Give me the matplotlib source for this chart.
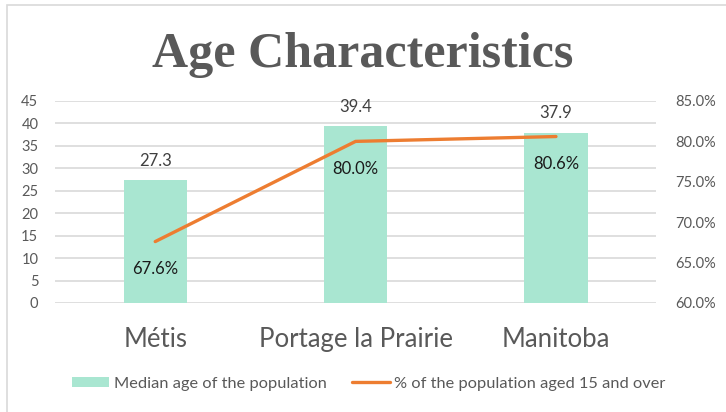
import matplotlib.pyplot as plt
import numpy as np
from matplotlib.patches import Rectangle

categories = ["Métis", "Portage la Prairie", "Manitoba"]
median_age = [27.3, 39.4, 37.9]
pct_15_over = [67.6, 80.0, 80.6]

bar_color = "#A9E6D1"
line_color = "#ED7D31"
text_gray = "#595959"

plt.rcParams["font.family"] = ["Lato", "DejaVu Sans"]

fig = plt.figure(figsize=(7.26, 4.12), dpi=100)
fig.patches.append(Rectangle((7 / 726, -0.05), 1.0, 1 - 5 / 412 + 0.05,
                             transform=fig.transFigure, fill=False,
                             edgecolor="#D9D9D9", linewidth=1.2))

ax = fig.add_axes([0.0758, 0.2646, 0.828, 0.4903])
x = np.arange(len(categories))
ax.bar(x, median_age, width=0.315, color=bar_color, zorder=2,
       label="Median age of the population")
ax.set_xlim(-0.5, 2.5)
ax.set_ylim(0, 45)
ax.set_yticks(np.arange(0, 46, 5))
ax.yaxis.grid(True, color="#D9D9D9", linewidth=1.2, zorder=0)
ax.set_axisbelow(True)
for s in ax.spines.values():
    s.set_visible(False)
ax.tick_params(axis="y", length=0, labelsize=10.5, labelcolor=text_gray, pad=12)
ax.tick_params(axis="x", length=0, labelsize=18.5, labelcolor=text_gray, pad=17)
ax.set_xticks(x)
ax.set_xticklabels(categories)

for xi, v in zip(x, median_age):
    ax.annotate(f"{v:.1f}", (xi, v), xytext=(0, 14), textcoords="offset points",
                ha="center", va="center", fontsize=12, color="#404040")

ax2 = ax.twinx()
ax2.plot(x, pct_15_over, color=line_color, linewidth=2.4, zorder=3,
         solid_capstyle="round", label="% of the population aged 15 and over")
ax2.set_ylim(60, 85)
ax2.set_yticks(np.arange(60, 86, 5))
ax2.set_yticklabels([f"{t:.1f}%" for t in np.arange(60, 86, 5)])
for s in ax2.spines.values():
    s.set_visible(False)
ax2.tick_params(axis="y", length=0, labelsize=10.5, labelcolor=text_gray, pad=14)

for xi, v in zip(x, pct_15_over):
    ax2.annotate(f"{v:.1f}%", (xi, v), xytext=(0, -20), textcoords="offset points",
                 ha="center", va="center", fontsize=12, color="#1a1a1a")

fig.text(0.5, 1 - 67 / 412, "Age Characteristics", ha="center", va="baseline",
         fontsize=36, fontweight="bold", color=text_gray,
         family="Liberation Serif")

h1, l1 = ax.get_legend_handles_labels()
h2, l2 = ax2.get_legend_handles_labels()
fig.legend(h1 + h2, l1 + l2, loc="center", bbox_to_anchor=(0.508, 0.068), ncol=2,
           frameon=False, fontsize=11.8, labelcolor=text_gray, handlelength=2.3,
           handleheight=0.6, handletextpad=0.3, columnspacing=1.5)

fig.savefig("out.png", dpi=100)
